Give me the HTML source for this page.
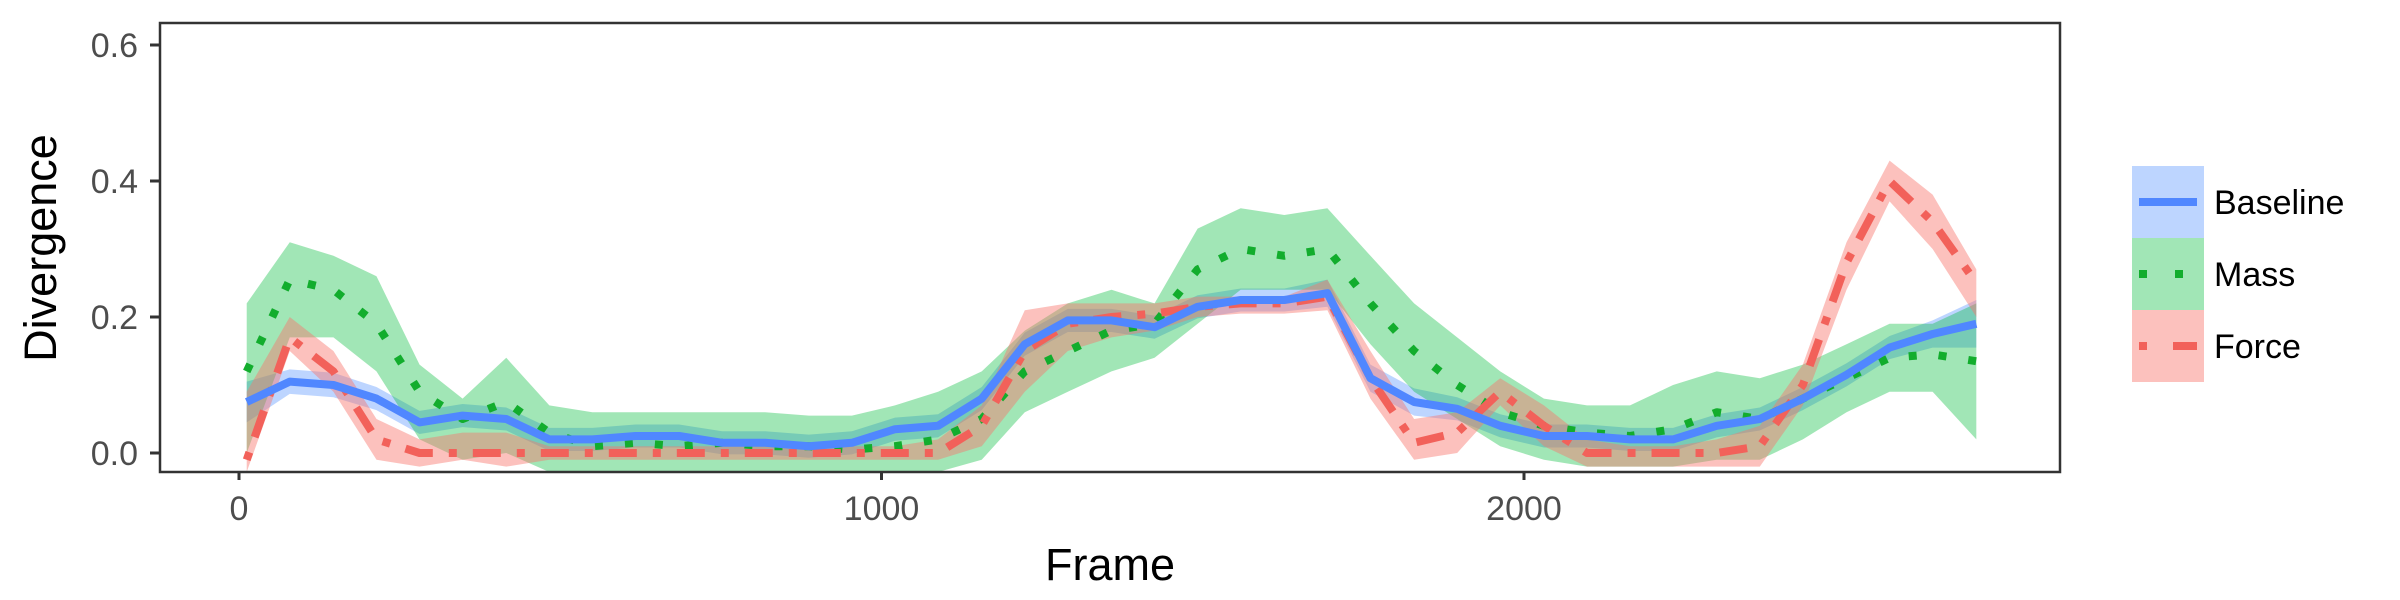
<!DOCTYPE html>
<html><head><meta charset="utf-8"><style>
html,body{margin:0;padding:0;background:#fff;}
svg{display:block;font-family:"Liberation Sans",sans-serif;}
</style></head><body>
<svg id="chart" width="2400" height="600" viewBox="0 0 2400 600" xmlns="http://www.w3.org/2000/svg">
<rect x="0" y="0" width="2400" height="600" fill="#fff"/>
<g id="bands"></g>
<g id="lines"></g>
<rect x="160" y="23" width="1900" height="449" fill="none" stroke="#333" stroke-width="2.5"/>
<g id="axes"></g>
<text x="1110" y="580" font-size="45" text-anchor="middle" fill="#000">Frame</text>
<text transform="translate(56,248) rotate(-90)" font-size="45" text-anchor="middle" fill="#000">Divergence</text>
<g id="legend"></g>
</svg>
<script>
const frames=[12,79,147,214,281,348,416,483,550,617,685,752,819,887,954,1021,1088,1156,1223,1290,1358,1425,1492,1559,1627,1694,1761,1829,1896,1963,2031,2098,2165,2232,2300,2367,2434,2502,2569,2636,2704];
const baseline=[0.075,0.105,0.10,0.08,0.045,0.055,0.05,0.02,0.02,0.025,0.025,0.015,0.015,0.01,0.015,0.035,0.04,0.08,0.16,0.195,0.195,0.185,0.215,0.225,0.225,0.235,0.11,0.075,0.065,0.04,0.025,0.025,0.02,0.02,0.04,0.05,0.08,0.115,0.155,0.175,0.19];
const baselineHi=[0.105,0.123,0.118,0.097,0.062,0.072,0.067,0.037,0.037,0.042,0.042,0.032,0.032,0.027,0.032,0.052,0.057,0.097,0.177,0.212,0.212,0.202,0.232,0.242,0.242,0.255,0.13,0.095,0.082,0.057,0.042,0.042,0.037,0.037,0.057,0.067,0.097,0.132,0.172,0.195,0.225];
const baselineLo=[0.045,0.087,0.082,0.063,0.028,0.038,0.033,0.003,0.003,0.008,0.008,-0.002,-0.002,-0.007,-0.002,0.018,0.023,0.063,0.143,0.178,0.178,0.168,0.198,0.208,0.208,0.215,0.09,0.055,0.048,0.023,0.008,0.008,0.003,0.003,0.023,0.033,0.063,0.098,0.138,0.155,0.155];
const mass=[0.12,0.255,0.24,0.19,0.09,0.05,0.075,0.03,0.01,0.015,0.01,0.015,0.01,0.01,0.005,0.01,0.02,0.05,0.12,0.15,0.18,0.19,0.27,0.30,0.29,0.30,0.22,0.15,0.10,0.06,0.04,0.03,0.025,0.035,0.06,0.05,0.08,0.11,0.14,0.145,0.135];
const massHi=[0.22,0.31,0.29,0.26,0.13,0.08,0.14,0.07,0.06,0.06,0.06,0.06,0.06,0.055,0.055,0.07,0.09,0.12,0.18,0.22,0.24,0.22,0.33,0.36,0.35,0.36,0.29,0.22,0.17,0.12,0.08,0.07,0.07,0.1,0.12,0.11,0.13,0.16,0.19,0.19,0.22];
const massLo=[0.0,0.17,0.17,0.12,0.02,-0.01,0.0,-0.03,-0.03,-0.03,-0.03,-0.03,-0.03,-0.03,-0.03,-0.03,-0.03,-0.01,0.06,0.09,0.12,0.14,0.19,0.24,0.24,0.24,0.16,0.09,0.05,0.01,-0.01,-0.02,-0.02,-0.02,-0.01,-0.01,0.02,0.06,0.09,0.09,0.02];
const force=[-0.01,0.17,0.12,0.02,0.0,0.0,0.0,0.0,0.0,0.0,0.0,0.0,0.0,0.0,0.0,0.0,0.0,0.04,0.15,0.19,0.20,0.205,0.215,0.22,0.22,0.23,0.11,0.015,0.03,0.09,0.04,0.0,0.0,0.0,0.0,0.01,0.1,0.28,0.40,0.34,0.25];
const forceHi=[0.09,0.20,0.15,0.05,0.02,0.03,0.03,0.01,0.01,0.01,0.01,0.01,0.01,0.01,0.01,0.01,0.02,0.07,0.21,0.22,0.22,0.22,0.23,0.23,0.23,0.255,0.15,0.05,0.06,0.11,0.07,0.02,0.01,0.01,0.02,0.04,0.13,0.31,0.43,0.38,0.27];
const forceLo=[-0.03,0.15,0.09,-0.01,-0.02,-0.01,-0.02,-0.01,-0.01,-0.01,-0.01,-0.01,-0.01,-0.01,-0.01,-0.01,-0.01,0.01,0.09,0.15,0.17,0.18,0.20,0.205,0.205,0.21,0.08,-0.01,0.0,0.07,0.01,-0.02,-0.02,-0.02,-0.02,-0.02,0.07,0.24,0.37,0.30,0.20];
const xTicks=[0,1000,2000];
const yTicks=[0,0.2,0.4,0.6];
const yTickLabels=["0.0","0.2","0.4","0.6"];
const legendLabels=["Baseline","Mass","Force"];

const NS="http://www.w3.org/2000/svg";
const X0=160,X1=2060,Y0=23,Y1=472;
function xs(f){return 239+(f/1000)*642.5;}
function ys(v){return 453-v*680;}
function mk(tag,attrs,parent){const e=document.createElementNS(NS,tag);for(const k in attrs)e.setAttribute(k,attrs[k]);parent.appendChild(e);return e;}
function clampY(y){return Math.max(Y0,Math.min(Y1,y));}

const defs=mk('defs',{},document.getElementById('chart'));
const cp=mk('clipPath',{id:'clip'},defs);
mk('rect',{x:X0,y:Y0,width:X1-X0,height:Y1-Y0},cp);

const bands=document.getElementById('bands');
bands.setAttribute('clip-path','url(#clip)');
const lines=document.getElementById('lines');
lines.setAttribute('clip-path','url(#clip)');

function band(lo,hi,color,name){
  let pts=[];
  for(let i=0;i<frames.length;i++)pts.push(xs(frames[i])+','+clampY(ys(hi[i])));
  for(let i=frames.length-1;i>=0;i--)pts.push(xs(frames[i])+','+clampY(ys(lo[i])));
  const p=mk('polygon',{points:pts.join(' '),fill:color.c,'fill-opacity':color.o},bands);
  
  
}
function line(vals,color,dash,cap,name){
  const pts=frames.map((f,i)=>xs(f)+','+ys(vals[i])).join(' ');
  const attrs={points:pts,fill:'none',stroke:color,'stroke-width':8,'stroke-linejoin':'round','stroke-linecap':cap};
  if(dash)attrs['stroke-dasharray']=dash;
  const p=mk('polyline',attrs,lines);
  
  
}
const cB={c:'#619CFF',o:0.42},cM={c:'#00BA38',o:0.37},cF={c:'#F8766D',o:0.45};
band(baselineLo,baselineHi,cB,'baseline-band');
band(massLo,massHi,cM,'mass-band');
band(forceLo,forceHi,cF,'force-band');
line(mass,'#12ad2d','8 22','butt','mass-line');
line(force,'#F2615A','8 16 28 16','butt','force-line');
line(baseline,'#5087FF',null,'butt','baseline-line');

const axes=document.getElementById('axes');
xTicks.forEach(t=>{
  const x=xs(t);
  const l=mk('line',{x1:x,x2:x,y1:Y1,y2:Y1+8,stroke:'#333','stroke-width':3},axes);
  
  
  const tx=mk('text',{x:x,y:Y1+48,'font-size':34,'text-anchor':'middle',fill:'#4d4d4d'},axes);
  tx.textContent=String(t);
  
  
});
yTicks.forEach((t,i)=>{
  const y=ys(t);
  const l=mk('line',{x1:X0-10,x2:X0,y1:y,y2:y,stroke:'#333','stroke-width':3},axes);
  
  
  const tx=mk('text',{x:X0-22,y:y+12,'font-size':34,'text-anchor':'end',fill:'#4d4d4d'},axes);
  tx.textContent=yTickLabels[i];
  
  
});

const legend=document.getElementById('legend');
const lc=[[cB,'#5087FF',null],[cM,'#12ad2d','8 28'],[cF,'#F2615A','8 26 22 0']];
legendLabels.forEach((lab,i)=>{
  const y=166+i*72;
  const g=mk('g',{},legend);
  
  
  mk('rect',{x:2132,y:y,width:72,height:72,fill:lc[i][0].c,'fill-opacity':lc[i][0].o},g);
  const a={x1:2139,x2:2197,y1:y+36,y2:y+36,stroke:lc[i][1],'stroke-width':8};
  if(lc[i][2])a['stroke-dasharray']=lc[i][2];
  mk('line',a,g);
  const t=mk('text',{x:2214,y:y+48,'font-size':34,fill:'#000'},g);
  t.textContent=lab;
});
</script>
</body></html>
